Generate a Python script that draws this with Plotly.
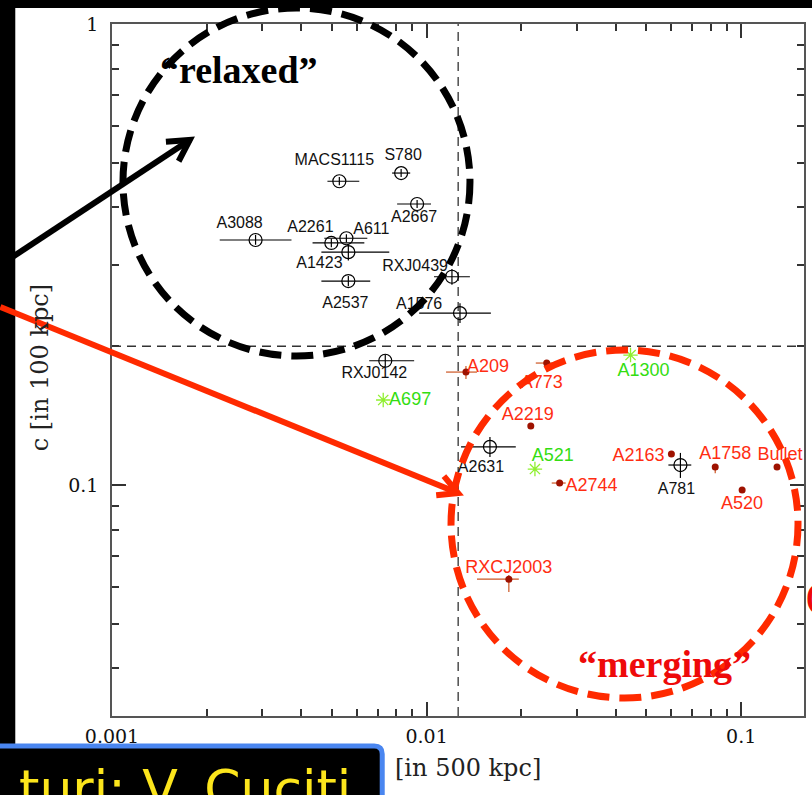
import math
import plotly.graph_objects as go

# ---------------------------------------------------------------------------
# Data: centroid shift w [500 kpc] vs concentration c [100 kpc]
# ---------------------------------------------------------------------------
relaxed_names = ["MACS1115", "S780", "A2667", "A3088", "A2261", "A611", "A1423",
                 "A2537", "RXJ0439", "A1576", "RXJ0142", "A2631", "A781"]
relaxed_w = [0.00528, 0.00830, 0.00933, 0.00286, 0.00498, 0.00556, 0.00564,
             0.00564, 0.01204, 0.01277, 0.00739, 0.01590, 0.0641]
relaxed_w_lo = [0.00484, 0.00777, 0.00806, 0.00220, 0.00434, 0.00473, 0.00463,
                0.00463, 0.01056, 0.00947, 0.00657, 0.01287, 0.0587]
relaxed_w_hi = [0.00611, 0.00887, 0.01033, 0.00372, 0.00634, 0.00648, 0.00761,
                0.00662, 0.01373, 0.01601, 0.00913, 0.01921, 0.0694]
relaxed_c = [0.456, 0.475, 0.407, 0.340, 0.335, 0.343, 0.320,
             0.277, 0.283, 0.236, 0.186, 0.121, 0.1105]
relaxed_c_lo = [0.447, 0.466, 0.399, 0.332, 0.328, 0.336, 0.307,
                0.270, 0.272, 0.2245, 0.181, 0.1150, 0.1036]
relaxed_c_hi = [0.466, 0.485, 0.415, 0.349, 0.342, 0.350, 0.333,
                0.284, 0.294, 0.248, 0.192, 0.1271, 0.1174]

merging_names = ["A209", "A773", "A2219", "A2744", "A2163", "A1758", "Bullet",
                 "A520", "RXCJ2003"]
merging_w = [0.01334, 0.02409, 0.02144, 0.02648, 0.0600, 0.0827, 0.1300, 0.1007, 0.01826]
merging_w_lo = [0.01153, 0.02224, 0.02100, 0.02499, 0.0590, 0.0815, 0.1285, 0.0993, 0.01446]
merging_w_hi = [0.01446, 0.02554, 0.02190, 0.02768, 0.0610, 0.0840, 0.1315, 0.1021, 0.01964]
merging_c = [0.1758, 0.1839, 0.1343, 0.1010, 0.1168, 0.1094, 0.1094, 0.0975, 0.0625]
merging_c_lo = [0.1698, 0.1820, 0.1325, 0.0995, 0.1152, 0.1060, 0.1080, 0.0962, 0.0586]
merging_c_hi = [0.1812, 0.1858, 0.1361, 0.1025, 0.1184, 0.1110, 0.1108, 0.0988, 0.0638]

mid_names = ["A697", "A1300", "A521"]
mid_w = [0.00728, 0.0445, 0.0221]
mid_c = [0.1529, 0.1914, 0.1083]

# dividing values between relaxed and disturbed systems
w_split = [0.0126, 0.0126]
c_split = [0.2, 0.2]

x_tick_vals = [0.001, 0.01, 0.1]
x_tick_text = ["0.001", "0.01", "0.1"]
y_tick_vals = [0.1, 1]
y_tick_text = ["0.1", "1"]

# label offsets from each marker, in screen pixels (right, down)
relaxed_label_off = [(-5, -20), (2, -17), (-3, 14), (-16, -16), (-21, -15), (25, -8),
                     (-29, 12), (-3, 23), (-37, -10), (-41, -8), (-11, 13), (-9, 21),
                     (-4, 25)]
merging_label_off = [(22, -5), (-5, 20), (-3, -10), (32, 3), (-33, 3), (10, -13),
                     (3, -12), (0, 14), (0, -11)]
mid_label_off = [(27, 0), (13, 16), (18, -13)]

# ---------------------------------------------------------------------------
# Geometry
# ---------------------------------------------------------------------------
W, H = 812, 795
ML, MR, MT, MB = 112, 6, 24, 79
PW, PH = W - ML - MR, H - MT - MB
X_RANGE = [-3.0, -0.8003]
Y_RANGE = [-1.501, 0.0]
X_DEC = PW / (X_RANGE[1] - X_RANGE[0])
Y_DEC = PH / (Y_RANGE[1] - Y_RANGE[0])


def px(x):
    return (x - ML) / PW


def py(y):
    return (H - MB - y) / PH


def label_pos(xs, ys, offs):
    lx = [x * 10 ** (o[0] / X_DEC) for x, o in zip(xs, offs)]
    ly = [y * 10 ** (-o[1] / Y_DEC) for y, o in zip(ys, offs)]
    return lx, ly


def arrow(x0, y0, x1, y1, color, width, head, ang):
    L = math.hypot(x1 - x0, y1 - y0)
    ux, uy = (x0 - x1) / L, (y0 - y1) / L
    pts = []
    for s in (1, -1):
        a = math.radians(s * ang)
        rx = ux * math.cos(a) - uy * math.sin(a)
        ry = ux * math.sin(a) + uy * math.cos(a)
        pts.append((x1 + head * rx, y1 + head * ry))
    ln = dict(color=color, width=width)
    body = dict(type="line", xref="paper", yref="paper", x0=px(x0), y0=py(y0),
                x1=px(x1), y1=py(y1), line=ln)
    path = (f"M {px(pts[0][0])},{py(pts[0][1])} L {px(x1)},{py(y1)} "
            f"L {px(pts[1][0])},{py(pts[1][1])}")
    tip = dict(type="path", xref="paper", yref="paper", path=path, line=ln)
    return [body, tip]


RED_TXT = "#ff2d12"
GREEN_TXT = "#33dd11"

fig = go.Figure()

# dashed dividing lines
fig.add_trace(go.Scatter(x=w_split, y=[10 ** Y_RANGE[0], 10 ** Y_RANGE[1]], mode="lines",
                         line=dict(color="#333333", width=1.3, dash="9px,6px"),
                         hoverinfo="skip", showlegend=False))
fig.add_trace(go.Scatter(x=[10 ** X_RANGE[0], 10 ** X_RANGE[1]], y=c_split, mode="lines",
                         line=dict(color="#333333", width=1.3, dash="9px,6px"),
                         hoverinfo="skip", showlegend=False))

# relaxed clusters
fig.add_trace(go.Scatter(
    x=relaxed_w, y=relaxed_c, mode="markers",
    marker=dict(symbol="circle-open", size=13, color="black", line=dict(width=1.2)),
    error_x=dict(type="data", symmetric=False,
                 array=[h - v for h, v in zip(relaxed_w_hi, relaxed_w)],
                 arrayminus=[v - l for v, l in zip(relaxed_w, relaxed_w_lo)],
                 color="black", thickness=1.2, width=0),
    error_y=dict(type="data", symmetric=False,
                 array=[h - v for h, v in zip(relaxed_c_hi, relaxed_c)],
                 arrayminus=[v - l for v, l in zip(relaxed_c, relaxed_c_lo)],
                 color="black", thickness=1.2, width=0),
    showlegend=False, cliponaxis=False))

# merging clusters
fig.add_trace(go.Scatter(
    x=merging_w, y=merging_c, mode="markers",
    marker=dict(symbol="circle", size=7, color="#9e1200"),
    error_x=dict(type="data", symmetric=False,
                 array=[h - v for h, v in zip(merging_w_hi, merging_w)],
                 arrayminus=[v - l for v, l in zip(merging_w, merging_w_lo)],
                 color="#cc5522", thickness=1.2, width=0),
    error_y=dict(type="data", symmetric=False,
                 array=[h - v for h, v in zip(merging_c_hi, merging_c)],
                 arrayminus=[v - l for v, l in zip(merging_c, merging_c_lo)],
                 color="#cc5522", thickness=1.2, width=0),
    showlegend=False, cliponaxis=False))

# intermediate clusters
fig.add_trace(go.Scatter(
    x=mid_w, y=mid_c, mode="markers",
    marker=dict(symbol="asterisk-open", size=12, color="#8fef2f", line=dict(width=1.3, color="#8fef2f")),
    showlegend=False, cliponaxis=False))

# cluster names
for names, xs, ys, offs, color, size in [
        (relaxed_names, relaxed_w, relaxed_c, relaxed_label_off, "#111111", 16),
        (merging_names, merging_w, merging_c, merging_label_off, RED_TXT, 18),
        (mid_names, mid_w, mid_c, mid_label_off, GREEN_TXT, 18)]:
    lx, ly = label_pos(xs, ys, offs)
    fig.add_trace(go.Scatter(
        x=lx, y=ly, mode="text", text=names, textposition="middle center",
        textfont=dict(family="Liberation Sans, Arial, sans-serif", size=size, color=color),
        hoverinfo="skip", showlegend=False, cliponaxis=False))

# ---------------------------------------------------------------------------
# Decorations
# ---------------------------------------------------------------------------
shapes = [
    # white page area inside the black frame
    dict(type="rect", xref="paper", yref="paper", x0=px(15), x1=px(830), y0=py(8), y1=py(830),
         fillcolor="white", line=dict(width=0), layer="below"),
    # dashed group outlines
    dict(type="circle", xref="paper", yref="paper", x0=px(123), x1=px(471), y0=py(356), y1=py(8),
         line=dict(color="black", width=7, dash="22px,10px")),
    dict(type="circle", xref="paper", yref="paper", x0=px(452), x1=px(800), y0=py(698), y1=py(350),
         line=dict(color="#ff2a00", width=7, dash="22px,10px")),
]
shapes += arrow(0, 265, 190, 140, "black", 6, 24, 29)
shapes += arrow(0, 307, 459, 493, "#ff2a00", 6, 22, 28)

# credit box
box_path = (f"M {px(-20)},{py(746)} L {px(375)},{py(746)} Q {px(383)},{py(746)} {px(383)},{py(754)} "
            f"L {px(383)},{py(830)} L {px(-20)},{py(830)} Z")
shapes.append(dict(type="path", xref="paper", yref="paper", path=box_path,
                   fillcolor="black", line=dict(color="#4a86f0", width=5)))

serif = "DejaVu Serif, serif"
annotations = [
    dict(x=px(239), y=py(70), xref="paper", yref="paper", text="\u201crelaxed\u201d", showarrow=False,
         font=dict(family="Liberation Serif, Times New Roman, serif", size=38, color="black", weight="bold"),
         xanchor="center", yanchor="middle"),
    dict(x=px(666), y=py(664), xref="paper", yref="paper", text="\u201cmerging\u201d", showarrow=False,
         font=dict(family="Liberation Serif, Times New Roman, serif", size=38, color="#ee0a0a", weight="bold"),
         xanchor="center", yanchor="middle"),
    dict(x=px(806), y=py(596), xref="paper", yref="paper", text="(", showarrow=False,
         font=dict(family="Liberation Serif, serif", size=34, color="#ee0a0a", weight="bold"),
         xanchor="left", yanchor="middle"),
    dict(x=px(40), y=py(368), xref="paper", yref="paper", text="c [in 100 kpc]", showarrow=False,
         textangle=-90, font=dict(family=serif, size=24, color="#222222"),
         xanchor="center", yanchor="middle"),
    dict(x=px(469), y=py(768), xref="paper", yref="paper", text="[in 500 kpc]", showarrow=False,
         font=dict(family=serif, size=24, color="#222222"), xanchor="center", yanchor="middle"),
    dict(x=px(354), y=py(757), xref="paper", yref="paper", text="turi; V. Cuciti", showarrow=False,
         font=dict(family="DejaVu Sans, sans-serif", size=52, color="#fce51c"),
         xanchor="right", yanchor="top"),
]

axis_common = dict(
    type="log", showline=True, linecolor="#555555", linewidth=1.5, mirror="allticks",
    ticks="inside", ticklen=14, tickwidth=1.5, tickcolor="#333333",
    tickfont=dict(family=serif, size=19, color="#111111"),
    showgrid=False, zeroline=False,
)

minor_x = [k * 10 ** e for e in (-3, -2, -1) for k in range(2, 10) if k * 10 ** e < 10 ** X_RANGE[1]]
minor_y = [k * 10 ** e for e in (-2, -1) for k in range(2, 10) if k * 10 ** e > 10 ** Y_RANGE[0]]

fig.update_layout(
    width=W, height=H, autosize=False,
    margin=dict(l=ML, r=MR, t=MT, b=MB),
    paper_bgcolor="black", plot_bgcolor="white",
    xaxis=dict(axis_common, range=X_RANGE, tickvals=x_tick_vals, ticktext=x_tick_text,
               ticklabelstandoff=2,
               minor=dict(tickvals=minor_x, ticks="inside", ticklen=7, tickwidth=1.5,
                          tickcolor="#333333", showgrid=False)),
    yaxis=dict(axis_common, range=Y_RANGE, tickvals=y_tick_vals, ticktext=y_tick_text,
               ticklabelstandoff=8,
               minor=dict(tickvals=minor_y, ticks="inside", ticklen=7, tickwidth=1.5,
                          tickcolor="#333333", showgrid=False)),
    shapes=shapes, annotations=annotations,
)

fig.write_html("out.html")
